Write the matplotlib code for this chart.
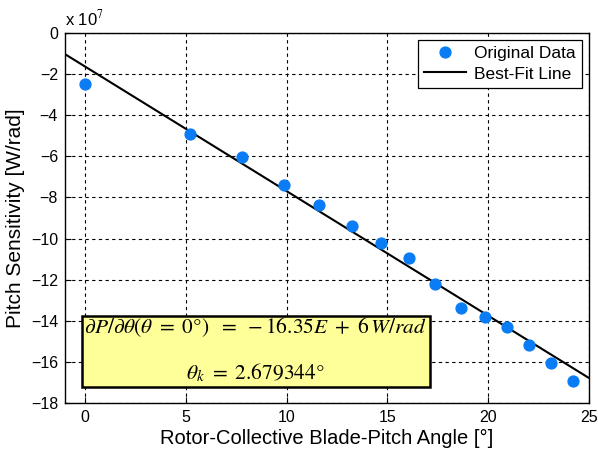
import numpy as np
import matplotlib.pyplot as plt
from matplotlib.patches import Rectangle

plt.rcParams['font.family'] = ['Liberation Sans', 'DejaVu Sans']
plt.rcParams['mathtext.fontset'] = 'stix'

# blade-pitch angle [deg] and pitch sensitivity [W/rad]
pitch_angle = [0.0, 5.21, 7.79, 9.87, 11.6, 13.24, 14.68, 16.07,
               17.36, 18.65, 19.84, 20.93, 22.02, 23.12, 24.21]
sensitivity = [-2.48e7, -4.91e7, -6.03e7, -7.39e7, -8.36e7, -9.39e7, -10.21e7, -10.94e7,
               -12.21e7, -13.38e7, -13.81e7, -14.30e7, -15.17e7, -16.05e7, -16.93e7]

# best-fit line: intercept at 0 deg and slope per degree
fit_intercept = -16.35e6
fit_slope = -6.06e6
theta_k = 2.679344

scale = 1e7

fig = plt.figure(figsize=(5.98, 4.55), dpi=100)
ax = fig.add_axes([65 / 598, 1 - 403 / 455, 524 / 598, 370 / 455])

x = np.array(pitch_angle)
y = np.array(sensitivity) / scale
ax.plot(x, y, 'o', color='#0a7cf5', markersize=7.8, label='Original Data', zorder=3)

xfit = np.array([-1, 25])
yfit = (fit_intercept + fit_slope * xfit) / scale
ax.plot(xfit, yfit, '-', color='black', lw=1.5, label='Best-Fit Line', zorder=2)

ax.set_xlim(-1, 25)
ax.set_ylim(-18, 0)
ax.set_xticks([0, 5, 10, 15, 20, 25])
ax.set_yticks(np.arange(-18, 1, 2))
ax.grid(True, color='black', linestyle=(0, (3, 3)), lw=0.8)
ax.tick_params(labelsize=11.5, direction='in', length=4, pad=5)
for sp in ax.spines.values():
    sp.set_linewidth(1.0)

ax.set_xlabel('Rotor-Collective Blade-Pitch Angle [°]', fontsize=14.5, labelpad=3)
ax.set_ylabel('Pitch Sensitivity [W/rad]', fontsize=15, labelpad=4)
ax.text(0.0, 1.012, r'x 10$^{7}$', transform=ax.transAxes, fontsize=12,
        va='bottom', ha='left')

leg = ax.legend(loc='upper right', fontsize=12.5, fancybox=False, framealpha=1,
                edgecolor='black', borderpad=0.35, handlelength=2.4, labelspacing=0.3,
                handletextpad=0.5, borderaxespad=0.4)
leg.get_frame().set_linewidth(0.9)

# annotation box with the fit results
ax.add_patch(Rectangle((-0.15, -17.2), 17.25, 3.44, facecolor='#ffff99',
                       edgecolor='black', lw=1.8, zorder=4))
line1 = r'$\partial P/\partial\theta(\theta\ =\ 0°)\ \ =\ -16.35E\ +\ 6\,W/rad$'
line2 = r'$\theta_k\ =\ %.6f°$' % theta_k
ax.text(-0.05, -14.3, line1, fontsize=15.4, ha='left', va='center', zorder=5)
ax.text(8.45, -16.5, line2, fontsize=15.4, ha='center', va='center', zorder=5)

fig.savefig('out.png', dpi=100)
